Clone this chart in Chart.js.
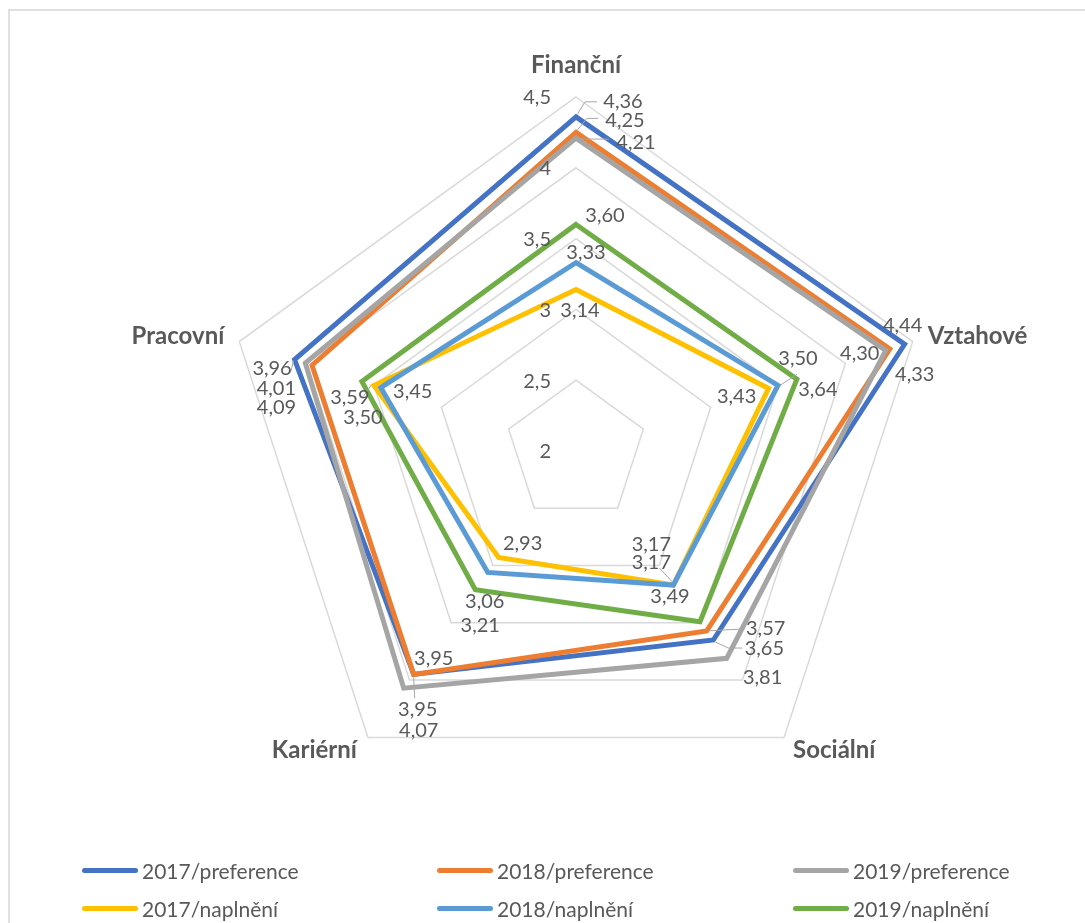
<!DOCTYPE html>
<html lang="cs">
<head>
<meta charset="utf-8">
<title>Preference a naplnění</title>
<script src="https://cdn.jsdelivr.net/npm/chart.js@4.4.1/dist/chart.umd.min.js"></script>
<style>
  html, body { margin: 0; padding: 0; background: #ffffff; }
  #wrap { position: relative; width: 1085px; height: 923px; overflow: hidden; font-family: Lato, "Open Sans", sans-serif; }
  #frame { position: absolute; left: 8px; top: 9px; width: 1200px; height: 1000px; border-left: 2px solid #e0e0e0; border-top: 2px solid #e0e0e0; }
  #c { position: absolute; left: 0; top: 0; }
  .lg { position: absolute; display: flex; align-items: center; height: 30px; font-size: 21px; color: #595959; white-space: nowrap; }
  .lg .mk { display: inline-block; width: 56px; height: 5px; border-radius: 3px; margin-right: 4px; }
</style>
</head>
<body>
<div id="wrap">
  <div id="frame"></div>
  <canvas id="c" width="1085" height="923"></canvas>
  <div id="legend"></div>
</div>
<script>
// Categories (radar axes)
const categories = ['Finanční', 'Vztahové', 'Sociální', 'Kariérní', 'Pracovní'];

// Series values, one per category
const pref2017 = [4.36, 4.44, 3.65, 3.95, 4.09];
const pref2018 = [4.25, 4.33, 3.57, 3.95, 3.96];
const pref2019 = [4.21, 4.30, 3.81, 4.07, 4.01];
const napl2017 = [3.14, 3.43, 3.17, 2.93, 3.50];
const napl2018 = [3.33, 3.50, 3.17, 3.06, 3.45];
const napl2019 = [3.60, 3.64, 3.49, 3.21, 3.59];

// Series names
const seriesNames = ['2017/preference', '2018/preference', '2019/preference',
                     '2017/naplnění', '2018/naplnění', '2019/naplnění'];

// Radial axis ticks
const tickValues = [2, 2.5, 3, 3.5, 4, 4.5];
const tickLabels = ['2', '2,5', '3', '3,5', '4', '4,5'];

// ---- styling ----
const seriesColors = ['#4472C4', '#ED7D31', '#A5A5A5', '#FFC000', '#5B9BD5', '#70AD47'];
const seriesValues = [pref2017, pref2018, pref2019, napl2017, napl2018, napl2019];
const textColor = '#595959';
const leaderColor = '#a6a6a6';

// value label placement: offset of label centre from its point [dx, dy]
const labelOffsets = [
  [[47, -15], [-2, -19], [51, 9],   [4, 35],   [-18, 48]],
  [[49, -12], [25, 26],  [59, -2],  [20, -16], [-40, 3]],
  [[60, 4],   [-26, 3],  [36, 19],  [15, 42],  [-29, 25]],
  [[4, 21],   [-32, 8],  [-22, -40],[24, -14], [-11, 32]],
  [[10, -10], [20, -27], [-22, -22],[-3, 29],  [32, 4]],
  [[29, -9],  [21, 10],  [-30, -25],[5, 36],   [-12, 16]]
];

// leader lines: [series, category, polyline relative to the point]
const leaders = [
  [0, 0, [[1, -2], [9, -15], [21, -15]]],
  [1, 0, [[1, -2], [11, -14], [22, -14]]],
  [2, 0, [[5, 1], [33, 1]]],
  [4, 1, [[2, 0], [19, -11]]],
  [1, 2, [[2, 0], [38, -2]]],
  [0, 2, [[2, 2], [15, 8], [29, 8]]],
  [3, 2, [[-1, -3], [-14, -17]]],
  [0, 3, [[0, 3], [1, 24]]],
  [0, 4, [[-1, 1], [-4, 13]]],
  [3, 4, [[-3, 0], [-12, 13]]]
];

// category label placement relative to the outer vertex: [dx, dy, align]
const catLabelPos = [
  [0, -32, 'center'],
  [15, -5, 'left'],
  [9, 13, 'left'],
  [-11, 13, 'right'],
  [-15, -5, 'right']
];

const fmt = v => v.toFixed(2).replace('.', ',');

const annotate = {
  id: 'annotate',
  afterDatasetsDraw(chart) {
    const ctx = chart.ctx;
    const scale = chart.scales.r;
    const cx = scale.xCenter, cy = scale.yCenter;
    ctx.save();

    // axis tick labels, left of the vertical axis
    ctx.font = '20px Lato, "Open Sans", sans-serif';
    ctx.fillStyle = textColor;
    ctx.textAlign = 'right';
    ctx.textBaseline = 'middle';
    tickValues.forEach((v, i) => {
      const d = scale.getDistanceFromCenterForValue(v);
      ctx.fillText(tickLabels[i], cx - 25, cy - d + 1);
    });

    // leader lines
    ctx.strokeStyle = leaderColor;
    ctx.lineWidth = 1;
    leaders.forEach(([s, c, pts]) => {
      const p = scale.getPointPositionForValue(c, seriesValues[s][c]);
      ctx.beginPath();
      pts.forEach(([dx, dy], k) => {
        if (k === 0) ctx.moveTo(p.x + dx, p.y + dy); else ctx.lineTo(p.x + dx, p.y + dy);
      });
      ctx.stroke();
    });

    // value labels
    ctx.textAlign = 'center';
    seriesValues.forEach((vals, s) => {
      vals.forEach((v, c) => {
        const p = scale.getPointPositionForValue(c, v);
        const [dx, dy] = labelOffsets[s][c];
        ctx.fillText(fmt(v), p.x + dx, p.y + dy);
      });
    });

    // category labels
    ctx.font = 'bold 24px Lato, "Open Sans", sans-serif';
    categories.forEach((name, i) => {
      const p = scale.getPointPositionForValue(i, scale.max);
      const [dx, dy, align] = catLabelPos[i];
      ctx.textAlign = align;
      ctx.fillText(name, p.x + dx, p.y + dy);
    });
    ctx.restore();
  }
};

const chart = new Chart(document.getElementById('c'), {
  type: 'radar',
  data: {
    labels: categories,
    datasets: seriesValues.map((vals, i) => ({
      label: seriesNames[i],
      data: vals,
      borderColor: seriesColors[i],
      backgroundColor: seriesColors[i],
      borderWidth: 5,
      borderJoinStyle: 'miter',
      pointRadius: 0,
      pointHoverRadius: 0,
      fill: false,
      tension: 0,
      order: seriesValues.length - i
    }))
  },
  options: {
    responsive: false,
    animation: false,
    layout: { padding: { left: 222, right: 155, top: 97, bottom: 118 } },
    plugins: { legend: { display: false }, tooltip: { enabled: false } },
    scales: {
      r: {
        min: 2,
        max: 4.5,
        ticks: { display: false, stepSize: 0.5 },
        grid: { color: '#d9d9d9', lineWidth: 1.5 },
        angleLines: { display: false },
        pointLabels: { display: false }
      }
    }
  },
  plugins: [annotate]
});

// legend: three columns, two rows
const legendEl = document.getElementById('legend');
const colX = [82, 437, 793];
const rowY = [855, 893];
chart.data.datasets.forEach((ds, i) => {
  const item = document.createElement('div');
  item.className = 'lg';
  item.style.left = colX[i % 3] + 'px';
  item.style.top = rowY[Math.floor(i / 3)] + 'px';
  const mk = document.createElement('span');
  mk.className = 'mk';
  mk.style.background = ds.borderColor;
  const tx = document.createElement('span');
  tx.textContent = ds.label;
  item.appendChild(mk);
  item.appendChild(tx);
  legendEl.appendChild(item);
});
</script>
</body>
</html>
